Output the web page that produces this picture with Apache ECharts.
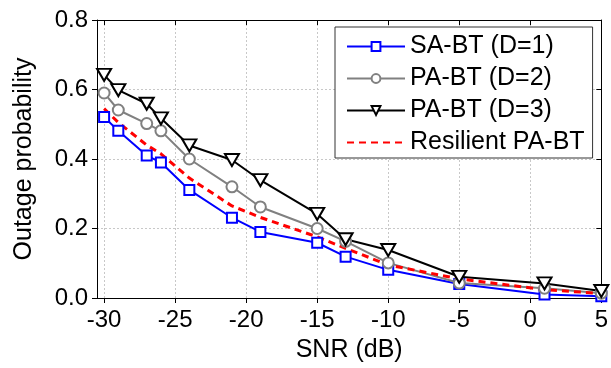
<!DOCTYPE html>
<html>
<head>
<meta charset="utf-8">
<script src="https://cdn.jsdelivr.net/npm/echarts@6/dist/echarts.min.js"></script>
<style>
html,body{margin:0;padding:0;background:#fff;}
#c{width:611px;height:368px;}
</style>
</head>
<body>
<div id="c"></div>
<script>
const snr = [-30, -29, -27, -26, -24, -21, -19, -15, -13, -10, -5, 1, 5];
const saBtD1 = [0.521, 0.481, 0.410, 0.390, 0.311, 0.231, 0.190, 0.159, 0.119, 0.081, 0.040, 0.010, 0.005];
const paBtD2 = [0.590, 0.541, 0.502, 0.481, 0.400, 0.320, 0.262, 0.200, 0.163, 0.101, 0.043, 0.028, 0.014];
const paBtD3 = [0.642, 0.598, 0.559, 0.517, 0.439, 0.397, 0.339, 0.242, 0.169, 0.138, 0.061, 0.042, 0.020];
const resilient = [0.545, 0.505, 0.440, 0.415, 0.345, 0.265, 0.232, 0.176, 0.143, 0.095, 0.055, 0.024, 0.013];
const xTicks = [-30, -25, -20, -15, -10, -5, 0, 5];
const seriesNames = ['SA-BT (D=1)', 'PA-BT (D=2)', 'PA-BT (D=3)', 'Resilient PA-BT'];

const pairs = arr => snr.map((x, i) => [x, arr[i]]);
const font = 'Liberation Sans, Arial, sans-serif';
const chart = echarts.init(document.getElementById('c'), null, {renderer: 'canvas'});
const gridColor = '#c8c8c8';
chart.setOption({
  animation: false,
  backgroundColor: '#fff',
  grid: {left: 97, right: 9, top: 20, bottom: 68, containLabel: false},
  xAxis: [{
    type: 'value', min: -30.5, max: 5, position: 'bottom',
    name: 'SNR (dB)', nameLocation: 'middle', nameGap: 40,
    nameTextStyle: {fontFamily: font, fontSize: 25, color: '#000'},
    axisLine: {show: true, onZero: false, lineStyle: {color: '#000', width: 1}},
    axisTick: {show: true, inside: false, length: 5, customValues: xTicks, lineStyle: {color: '#000'}},
    axisLabel: {customValues: xTicks, fontFamily: font, fontSize: 24, color: '#000', margin: 10},
    splitLine: {show: true, lineStyle: {color: gridColor, type: [2, 2], width: 1}}
  }, {
    type: 'value', min: -30.5, max: 5, position: 'top',
    axisLine: {show: true, onZero: false, lineStyle: {color: '#000', width: 1}},
    axisTick: {show: true, inside: true, length: 5, customValues: xTicks, lineStyle: {color: '#000'}},
    axisLabel: {show: false}, splitLine: {show: false}
  }],
  yAxis: [{
    type: 'value', min: 0, max: 0.8, interval: 0.2, position: 'left',
    name: 'Outage probability', nameLocation: 'middle', nameGap: 60,
    nameTextStyle: {fontFamily: font, fontSize: 25, color: '#000'},
    axisLine: {show: true, onZero: false, lineStyle: {color: '#000', width: 1}},
    axisTick: {show: true, inside: false, length: 5, lineStyle: {color: '#000'}},
    axisLabel: {fontFamily: font, fontSize: 24, color: '#000', margin: 9, formatter: v => v.toFixed(1)},
    splitLine: {show: true, lineStyle: {color: gridColor, type: [2, 2], width: 1}}
  }, {
    type: 'value', min: 0, max: 0.8, interval: 0.2, position: 'right',
    axisLine: {show: true, onZero: false, lineStyle: {color: '#000', width: 1}},
    axisTick: {show: true, inside: true, length: 5, lineStyle: {color: '#000'}},
    axisLabel: {show: false}, splitLine: {show: false}
  }],
  legend: {
    orient: 'vertical', left: 335, top: 27,
    padding: [7, 8, 3, 11], itemGap: 7, itemWidth: 58, itemHeight: 11,
    borderColor: '#333', borderWidth: 1, backgroundColor: '#fff',
    textStyle: {fontFamily: font, fontSize: 25, color: '#000'},
    data: [seriesNames[0], seriesNames[1], seriesNames[2],
      {name: seriesNames[3], itemStyle: {opacity: 0}}]
  },
  series: [{
    name: seriesNames[0], type: 'line', data: pairs(saBtD1),
    color: '#0000ff', symbol: 'emptyRect', symbolSize: 10,
    lineStyle: {color: '#0000ff', width: 2}, itemStyle: {borderWidth: 2}
  }, {
    name: seriesNames[1], type: 'line', data: pairs(paBtD2),
    color: '#808080', symbol: 'emptyCircle', symbolSize: 11,
    lineStyle: {color: '#808080', width: 2}, itemStyle: {borderWidth: 2}
  }, {
    name: seriesNames[2], type: 'line', data: pairs(paBtD3),
    color: '#000000', symbol: 'emptyTriangle', symbolRotate: 180, symbolSize: [14, 12],
    lineStyle: {color: '#000000', width: 2}, itemStyle: {borderWidth: 2}
  }, {
    name: seriesNames[3], type: 'line', data: pairs(resilient),
    color: '#ff0000', symbol: 'none', showSymbol: false,
    lineStyle: {color: '#ff0000', width: 3, type: [7, 5]}
  }]
});
</script>
</body>
</html>
